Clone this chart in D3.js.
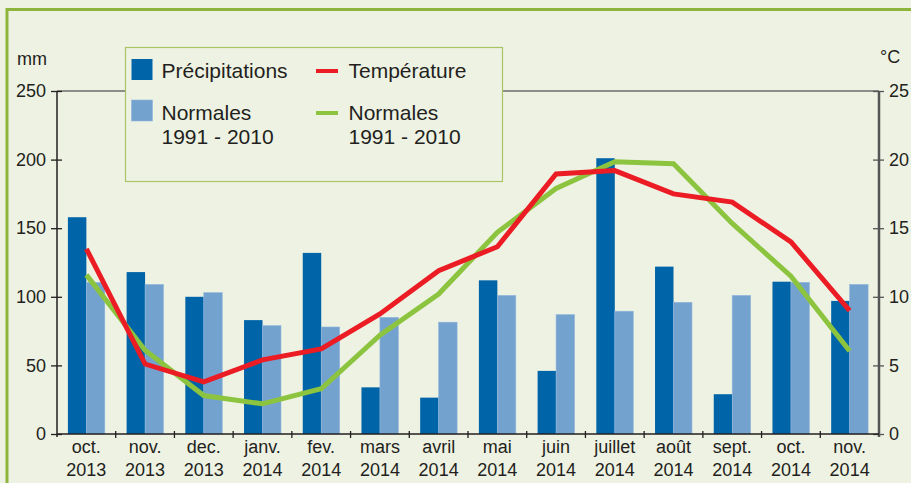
<!DOCTYPE html>
<html><head><meta charset="utf-8">
<script src="https://cdn.jsdelivr.net/npm/d3@7"></script>
<style>
html,body{margin:0;padding:0;background:#eef2e3;}
svg{display:block;font-family:"Liberation Sans",Arial,sans-serif;}
</style></head>
<body>
<svg id="c" width="911" height="483"></svg>
<script>
const months = ["oct.","nov.","dec.","janv.","fev.","mars","avril","mai","juin","juillet","août","sept.","oct.","nov."];
const years = ["2013","2013","2013","2014","2014","2014","2014","2014","2014","2014","2014","2014","2014","2014"];
const precip = [158,118,100,83,132,34,26.5,112,46,201,122,29,111,97];
const precipNormal = [110.5,109,103,79,78,85,81.5,101,87,89.5,96,101,110.5,109];
const temp = [13.5,5.1,3.8,5.4,6.2,8.75,11.9,13.65,18.95,19.2,17.5,16.9,14.0,9.0];
const tempNormal = [11.6,6.1,2.8,2.2,3.3,7.2,10.2,14.7,17.9,19.85,19.7,15.35,11.5,6.05];
const leftTicks = [0,50,100,150,200,250];
const rightTicks = [0,5,10,15,20,25];

(function(){
const svg = d3.select("#c");
const L = 57, R = 879, T = 91, B = 434;
const idx = d3.range(months.length);

// panel border
svg.append("rect").attr("x",7).attr("y",9.5).attr("width",1000).attr("height",1000)
  .attr("fill","#eef2e3").attr("stroke","#8db53c").attr("stroke-width",3);

const x = d3.scaleBand().domain(idx).range([L,R]).padding(0);
const x1 = d3.scaleBand().domain(["p","n"]).range([0,x.bandwidth()]).paddingInner(0).paddingOuter(0.59);
const y = d3.scaleLinear().domain([0,250]).range([B,T]);
const yT = d3.scaleLinear().domain([0,25]).range([B,T]);

// top line
svg.append("line").attr("x1",L).attr("x2",R).attr("y1",T).attr("y2",T)
  .attr("stroke","#6b6b6b").attr("stroke-width",1.5);

// bars
const g = svg.append("g");
g.selectAll("rect.p").data(idx).join("rect").attr("class","p")
  .attr("x",i=>x(i)+x1("p")).attr("width",x1.bandwidth())
  .attr("y",i=>y(precip[i])).attr("height",i=>y(0)-y(precip[i])).attr("fill","#0064a8");
g.selectAll("rect.n").data(idx).join("rect").attr("class","n")
  .attr("x",i=>x(i)+x1("n")).attr("width",x1.bandwidth())
  .attr("y",i=>y(precipNormal[i])).attr("height",i=>y(0)-y(precipNormal[i])).attr("fill","#74a2cf")
  .attr("stroke","#8fb6dc").attr("stroke-width",0.6);

// lines
const cx = i => x(i)+x.bandwidth()/2;
const lineT = d3.line().x((d,i)=>cx(i)).y(d=>yT(d));
svg.append("path").datum(tempNormal).attr("d",lineT).attr("fill","none")
  .attr("stroke","#8cc43f").attr("stroke-width",5);
svg.append("path").datum(temp).attr("d",lineT).attr("fill","none")
  .attr("stroke","#ec1c24").attr("stroke-width",5);

// left axis
const axL = svg.append("g").attr("transform",`translate(${L},0)`)
  .call(d3.axisLeft(y).tickValues(leftTicks).tickSize(0).tickPadding(11));
axL.select(".domain").attr("d",`M0,${T}V${B+3}`).attr("stroke","#231f20").attr("stroke-width",1.5);
axL.selectAll(".tick").append("line").attr("x1",-6).attr("x2",5).attr("stroke","#231f20").attr("stroke-width",1.3);
axL.selectAll("text").attr("font-size",18).attr("fill","#231f20").attr("font-family","Liberation Sans, Arial, sans-serif");

// right axis
const axR = svg.append("g").attr("transform",`translate(${R},0)`)
  .call(d3.axisRight(yT).tickValues(rightTicks).tickSize(0).tickPadding(10));
axR.select(".domain").attr("d",`M0,${T}V${B+3}`).attr("stroke","#555").attr("stroke-width",2.5);
axR.selectAll(".tick").append("line").attr("x1",-6).attr("x2",5).attr("stroke","#555").attr("stroke-width",1.3);
axR.selectAll("text").attr("font-size",18).attr("fill","#231f20").attr("font-family","Liberation Sans, Arial, sans-serif");

// bottom axis
const axB = svg.append("g").attr("transform",`translate(0,${B})`);
axB.append("line").attr("x1",L).attr("x2",R).attr("stroke","#231f20").attr("stroke-width",1.5);
axB.selectAll("line.t").data(d3.range(1,months.length)).join("line").attr("class","t")
  .attr("x1",i=>x(i)).attr("x2",i=>x(i)).attr("y1",-3).attr("y2",4)
  .attr("stroke","#231f20").attr("stroke-width",1.3);
const lbl = axB.selectAll("text.m").data(idx).join("text").attr("class","m")
  .attr("x",cx).attr("text-anchor","middle").attr("font-size",18).attr("fill","#231f20");
lbl.append("tspan").attr("x",cx).attr("y",19).text(i=>months[i]);
lbl.append("tspan").attr("x",cx).attr("y",42).text(i=>years[i]);

// units
svg.append("text").attr("x",17).attr("y",65).attr("font-size",18).attr("fill","#231f20").text("mm");
svg.append("text").attr("x",880).attr("y",63).attr("font-size",18).attr("fill","#231f20").text("°C");

// legend
const lg = svg.append("g");
lg.append("rect").attr("x",125.5).attr("y",47.5).attr("width",377).attr("height",134)
  .attr("fill","#eef2e3").attr("stroke","#a9c365").attr("stroke-width",1.2);
lg.append("rect").attr("x",131.5).attr("y",59).attr("width",21).attr("height",21).attr("fill","#0064a8");
lg.append("rect").attr("x",131.5).attr("y",100).attr("width",21).attr("height",21).attr("fill","#74a2cf")
  .attr("stroke","#8fb6dc").attr("stroke-width",0.6);
lg.append("line").attr("x1",316).attr("x2",338).attr("y1",71).attr("y2",71).attr("stroke","#ec1c24").attr("stroke-width",4);
lg.append("line").attr("x1",316).attr("x2",338).attr("y1",113).attr("y2",113).attr("stroke","#8cc43f").attr("stroke-width",4);
const lt = (xx,yy,t)=>lg.append("text").attr("x",xx).attr("y",yy).attr("font-size",21).attr("fill","#231f20").text(t);
lt(161.5,77.5,"Précipitations");
lt(161.5,120,"Normales");
lt(161.5,143.5,"1991 - 2010");
lt(348.5,77.5,"Température");
lt(348.5,120,"Normales");
lt(348.5,143.5,"1991 - 2010");
})();
</script>
</body></html>
